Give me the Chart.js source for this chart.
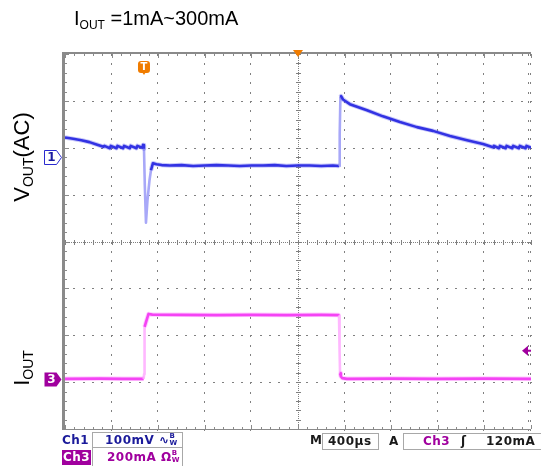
<!DOCTYPE html>
<html><head><meta charset="utf-8">
<script src="https://cdn.jsdelivr.net/npm/chart.js@4/dist/chart.umd.min.js"></script>
<style>
html,body{margin:0;padding:0;background:#fff;}
#wrap{position:relative;width:541px;height:466px;overflow:hidden;background:#fff;}
#c{position:absolute;left:0;top:0;}
.t{position:absolute;white-space:nowrap;}
.lbl{font-family:"Liberation Sans",Arial,sans-serif;color:#000;}
.sb{font-family:"DejaVu Sans",sans-serif;font-size:12px;line-height:15px;letter-spacing:0.5px;font-weight:bold;}
.box{position:absolute;box-sizing:border-box;border:1px solid #a8a8a8;}
.bw{display:inline-block;font-size:7px;line-height:7px;vertical-align:-1px;letter-spacing:0;}
</style></head><body>
<div id="wrap">
<canvas id="c" width="541" height="466"></canvas>
<div class="t lbl" style="left:74px;top:8px;font-size:20px;line-height:21px;">I<span style="font-size:12px;position:relative;top:4px;">OUT</span> =1mA~300mA</div>
<div class="t lbl" style="left:23px;top:157px;font-size:22px;line-height:22px;transform:translate(-50%,-50%) rotate(-90deg);">V<span style="font-size:14px;position:relative;top:4px;">OUT</span>(AC)</div>
<div class="t lbl" style="left:23px;top:368px;font-size:22px;line-height:22px;transform:translate(-50%,-50%) rotate(-90deg);">I<span style="font-size:14px;position:relative;top:4px;">OUT</span></div>

<div class="t sb" style="left:62px;top:433px;color:#1a1a9a;">Ch1</div>
<div class="box" style="left:92px;top:432px;width:91px;height:16px;"></div>
<div class="t sb" style="left:105px;top:433px;color:#1a1a9a;">100mV ∿<span class="bw">B<br>W</span></div>
<div class="t sb" style="left:62px;top:450px;background:#a0009e;color:#fff;padding:0 1px;">Ch3</div>
<div class="box" style="left:92px;top:447px;width:91px;height:22px;"></div>
<div class="t sb" style="left:107px;top:450px;color:#a0009e;">200mA Ω<span class="bw">B<br>W</span></div>

<div class="t sb" style="left:310px;top:433px;color:#1a1a1a;">M</div>
<div class="box" style="left:322px;top:433px;width:57px;height:17px;"></div>
<div class="t sb" style="left:328px;top:434px;color:#1a1a1a;">400µs</div>
<div class="t sb" style="left:389px;top:434px;color:#1a1a1a;">A</div>
<div class="box" style="left:403px;top:433px;width:160px;height:17px;"></div>
<div class="t sb" style="left:423px;top:434px;color:#a0009e;">Ch3</div>
<div class="t sb" style="left:461px;top:434px;color:#1a1a1a;">ʃ</div>
<div class="t sb" style="left:486px;top:434px;color:#1a1a1a;">120mA</div>
</div>
<script>
// ---- scope settings ----
const timePerDiv = 400;      // µs / div
const ch1Scale = 100;        // mV / div
const ch3Scale = 200;        // mA / div
const ch1Pos = 1.80;         // ch1 ground marker, divisions above centre
const ch3Pos = -2.93;        // ch3 ground marker, divisions above centre
const triggerTime = -1322;   // µs
const triggerLevel = 120;    // mA

// ---- Ch1: V_OUT (AC), mV ----
const ch1Time = [-2000,-1930,-1860,-1790,-1730,-1670,
  -1662,-1615,-1607,-1558,-1550,-1501,-1493,-1444,-1436,-1387,-1379,-1336,-1330,
  -1322,-1315,-1305,-1292,-1275,-1262,-1245,-1215,-1170,
  -1100,-1000,-900,-800,-700,-600,-500,-400,-300,-200,-100,0,100,200,300,352,
  358,364,370,386,445,592,729,875,1021,1159,1305,1451,1588,1674,
  1682,1725,1733,1782,1790,1839,1847,1896,1904,1953,1961,2000];
const ch1Value = [42,39,36,32,27,22,
  24,19,24,19,24,19,24,19,24,19,24,20,26,
  18,-60,-140,-92,-50,-28,-13,-15,-17,
  -18,-17,-19,-18,-17,-18,-19,-18,-18,-17,-19,-18,-18,-19,-18,-19,
  50,128,130,123,113,100,87,75,64,56,45,36,28,21,
  24,19,24,19,24,19,24,19,24,19,24,20];

// ---- Ch3: I_OUT, mA ----
const ch3Time = [-2000,-1700,-1500,-1325,-1321,-1317,-1300,-1283,-1250,-1000,-700,-400,-100,200,348,352,357,361,368,380,420,800,1200,1600,2000];
const ch3Value = [0,1,0,0,20,222,250,277,274,273,272,273,272,273,272,268,120,24,10,3,0,1,0,1,0];

const pts = (t, v) => t.map((x, i) => ({x, y: v[i]}));
const steep = c => Math.abs(c.p1.y - c.p0.y) > 5 * Math.max(Math.abs(c.p1.x - c.p0.x), 0.01);

function trace(t, v, axis, core, halo, pale, width, isHalo){
  return {
    data: pts(t, v), yAxisID: axis, xAxisID: 'x',
    borderColor: isHalo ? halo : core, borderWidth: width,
    borderJoinStyle: 'round', borderCapStyle: 'butt',
    pointRadius: 0, tension: 0, fill: false,
    segment: { borderColor: c => steep(c) ? (isHalo ? 'rgba(0,0,0,0)' : pale) : undefined }
  };
}

function roundRect(ctx, x, y, w, h, r){
  ctx.beginPath();
  ctx.moveTo(x+r, y); ctx.lineTo(x+w-r, y); ctx.quadraticCurveTo(x+w, y, x+w, y+r);
  ctx.lineTo(x+w, y+h-r); ctx.quadraticCurveTo(x+w, y+h, x+w-r, y+h);
  ctx.lineTo(x+r, y+h); ctx.quadraticCurveTo(x, y+h, x, y+h-r);
  ctx.lineTo(x, y+r); ctx.quadraticCurveTo(x, y, x+r, y); ctx.closePath();
}

const scopePlugin = {
  id: 'scope',
  beforeDatasetsDraw(chart){
    const {ctx, chartArea: a, scales: {x, yDiv}} = chart;
    const px = v => Math.round(x.getPixelForValue(v));
    const py = v => Math.round(yDiv.getPixelForValue(v));
    ctx.save();
    ctx.fillStyle = '#808080';
    for (let i = -4; i <= 5; i++){
      if (i === 0) continue;
      const X = px(i * timePerDiv);
      for (let j = -20; j <= 20; j++){
        const Y = py(j / 5);
        ctx.fillRect(X - 1, Y, 1, 2);
        if (i === 5) ctx.fillRect(X - 3, Y, 1, 2);
      }
    }
    for (let j = -3; j <= 3; j++){
      if (j === 0) continue;
      const Y = py(j);
      for (let k = -25; k <= 25; k++){
        ctx.fillRect(px(k * timePerDiv / 5) - 1, Y, 2, 1);
      }
    }
    const cx = px(0), cy = py(0);
    for (let X = a.left; X < a.right; X += 2) ctx.fillRect(X, cy, 1, 1);
    for (let Y = a.top; Y < a.bottom; Y += 2) ctx.fillRect(cx, Y, 1, 1);
    for (let k = -25; k <= 25; k++) ctx.fillRect(px(k * timePerDiv / 5), cy - 2, 1, 5);
    for (let j = -20; j <= 20; j++) ctx.fillRect(cx - 2, py(j / 5), 5, 1);
    ctx.fillStyle = '#8a8a8a';
    ctx.fillRect(a.left - 3, a.top - 2, a.right - a.left + 3, 2);
    ctx.fillRect(a.left - 3, a.top - 2, 3, a.bottom - a.top + 3);
    ctx.fillRect(a.left - 3, a.bottom, a.right - a.left + 3, 1);
    for (let k = -25; k <= 25; k++){
      const X = px(k * timePerDiv / 5);
      const L = (k % 5 === 0) ? 4 : 2;
      ctx.fillRect(X, a.top, 1, L);
      ctx.fillRect(X, a.bottom - L, 1, L);
    }
    for (let j = -20; j <= 20; j++){
      const Y = py(j / 5);
      const L = (j % 5 === 0) ? 4 : 2;
      ctx.fillRect(a.left, Y, L, 1);
    }
    ctx.restore();
  },
  afterDraw(chart){
    const {ctx, chartArea: a, scales: {x, y1, y3}} = chart;
    ctx.save();
    const x0 = x.getPixelForValue(0);
    ctx.fillStyle = '#f07c00';
    ctx.beginPath(); ctx.moveTo(x0 - 5, a.top - 4); ctx.lineTo(x0 + 5, a.top - 4); ctx.lineTo(x0, a.top + 3); ctx.closePath(); ctx.fill();
    const tX = x.getPixelForValue(triggerTime);
    roundRect(ctx, tX - 6, a.top + 7, 12, 12, 3); ctx.fill();
    ctx.beginPath(); ctx.moveTo(tX - 2, a.top + 18); ctx.lineTo(tX + 2, a.top + 18); ctx.lineTo(tX, a.top + 21); ctx.fill();
    ctx.fillStyle = '#fff'; ctx.font = 'bold 10px "DejaVu Sans"'; ctx.textAlign = 'center'; ctx.textBaseline = 'middle';
    ctx.fillText('T', tX, a.top + 13.5);
    const c1 = Math.round(y1.getPixelForValue(0)) + 0.5;
    const L = a.left - 20.5;
    ctx.beginPath(); ctx.moveTo(L, c1 - 7); ctx.lineTo(L + 12, c1 - 7); ctx.lineTo(L + 17, c1); ctx.lineTo(L + 12, c1 + 7); ctx.lineTo(L, c1 + 7); ctx.closePath();
    ctx.fillStyle = '#fff'; ctx.fill(); ctx.strokeStyle = '#2a2ad0'; ctx.lineWidth = 1; ctx.stroke();
    ctx.fillStyle = '#1a1aa0'; ctx.font = 'bold 12px "DejaVu Sans"';
    ctx.fillText('1', L + 7, c1 + 0.5);
    const c3 = Math.round(y3.getPixelForValue(0)) + 0.5;
    ctx.beginPath(); ctx.moveTo(L, c3 - 7); ctx.lineTo(L + 12, c3 - 7); ctx.lineTo(L + 17, c3); ctx.lineTo(L + 12, c3 + 7); ctx.lineTo(L, c3 + 7); ctx.closePath();
    ctx.fillStyle = '#a0009e'; ctx.fill();
    ctx.fillStyle = '#fff'; ctx.fillText('3', L + 7, c3 + 0.5);
    const tl = y3.getPixelForValue(triggerLevel);
    const R = a.right;
    ctx.fillStyle = '#a0009e';
    ctx.beginPath(); ctx.moveTo(R - 9, tl); ctx.lineTo(R - 3, tl - 5); ctx.lineTo(R - 3, tl + 5); ctx.closePath(); ctx.fill();
    ctx.fillRect(R - 4, tl - 1, 4, 2);
    ctx.restore();
  }
};

new Chart(document.getElementById('c'), {
  type: 'line',
  data: { datasets: [
    trace(ch3Time, ch3Value, 'y3', '#f03cf0', 'rgba(255,90,255,0.3)', '#ffb8ff', 4.5, true),
    trace(ch3Time, ch3Value, 'y3', '#f03cf0', '', '#ffb8ff', 2.6, false),
    trace(ch1Time, ch1Value, 'y1', '#2a2ae0', 'rgba(70,70,235,0.3)', '#a8a8f8', 4.5, true),
    trace(ch1Time, ch1Value, 'y1', '#2a2ae0', '', '#a8a8f8', 2.6, false)
  ]},
  options: {
    responsive: false, animation: false, devicePixelRatio: 1,
    layout: { padding: { left: 65, right: 10, top: 54, bottom: 37 } },
    plugins: { legend: { display: false }, tooltip: { enabled: false }, title: { display: false } },
    scales: {
      x: { type: 'linear', min: -5 * timePerDiv, max: 5 * timePerDiv, display: false },
      yDiv: { type: 'linear', min: -4, max: 4, display: false },
      y1: { type: 'linear', min: (-4 - ch1Pos) * ch1Scale, max: (4 - ch1Pos) * ch1Scale, display: false },
      y3: { type: 'linear', min: (-4 - ch3Pos) * ch3Scale, max: (4 - ch3Pos) * ch3Scale, display: false }
    }
  },
  plugins: [scopePlugin]
});
</script>
</body></html>
